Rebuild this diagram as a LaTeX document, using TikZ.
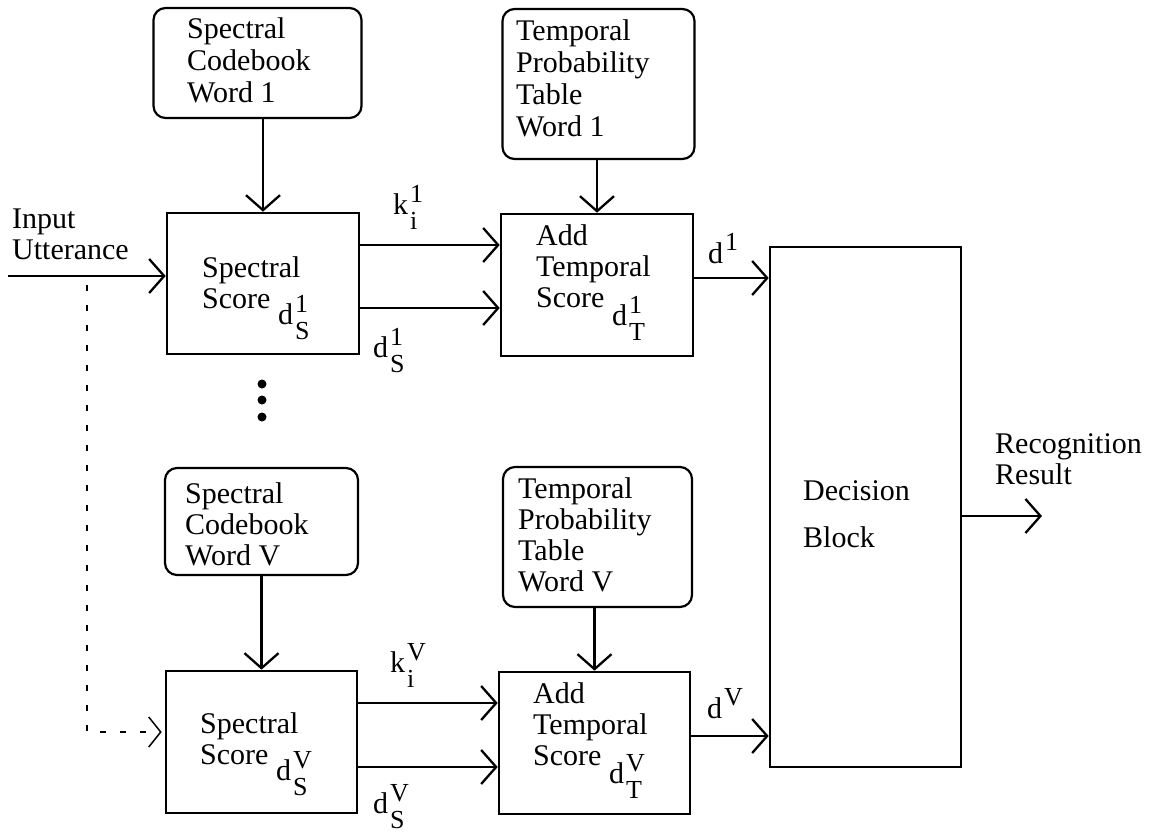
\documentclass[tikz,border=0pt]{standalone}
\usepackage{fontspec}
\setmainfont{Liberation Serif}
\usetikzlibrary{arrows.meta}

\newcommand\idxfont{\fontsize{26}{26}\selectfont}
\newcommand\supsub[3]{#1\kern2pt\rlap{\raisebox{-15pt}{\idxfont #2}}\raisebox{12pt}{\idxfont #3}}
\newcommand\supper[2]{#1\kern2pt\raisebox{13pt}{\idxfont #2}}
\newcommand\lines[1]{\begin{tabular}[t]{@{}l@{}}#1\end{tabular}}

\tikzset{
  box/.style={draw, line width=2.6pt, inner sep=0pt},
  rbox/.style={draw, line width=2.2pt, rounded corners=12pt, inner sep=0pt},
  txt/.style={inner sep=0pt, anchor=base west, font=\fontsize{30}{31}\selectfont},
  wide/.style={font=\fontsize{30}{32}\selectfont},
  arr/.style={line width=2.3pt, -{Straight Barb[length=15pt,width=34pt]}},
  dashline/.style={line width=1.5pt, dash pattern=on 6pt off 14pt},
  dot/.style={circle, fill, inner sep=0pt, minimum size=9pt},
}

\begin{document}
\begin{tikzpicture}[x=1pt, y=-1pt]
\useasboundingbox (0,0) rectangle (1157,833);

% blocks for word 1
\node[rbox, minimum width=208pt, minimum height=110pt] (cb1) at (257.5,63) {};
\node[rbox, minimum width=192pt, minimum height=150pt] (tp1) at (598.5,84) {};
\node[box, minimum width=192pt, minimum height=141pt] (ss1) at (263,283.5) {};
\node[box, minimum width=192pt, minimum height=142pt] (at1) at (597,285) {};

% blocks for word V
\node[rbox, minimum width=193pt, minimum height=107pt] (cbV) at (261.5,521.5) {};
\node[rbox, minimum width=189pt, minimum height=140pt] (tpV) at (597.5,537) {};
\node[box, minimum width=191pt, minimum height=142pt] (ssV) at (261.5,742) {};
\node[box, minimum width=191pt, minimum height=142pt] (atV) at (594.5,743) {};

% decision block
\node[box, minimum width=191pt, minimum height=520pt] (dec) at (865.5,507) {};

% ellipsis dots
\node[dot] (dot1) at (262,384) {};
\node[dot] (dot2) at (262,400) {};
\node[dot] (dot3) at (262,417) {};

% texts
\node[txt] (tin) at (12,228) {\lines{Input\\Utterance}};
\node[txt, wide] (tcb1) at (187,38) {\lines{Spectral\\Codebook\\Word 1}};
\node[txt, wide] (ttp1) at (516,40) {\lines{Temporal\\Probability\\Table\\Word 1}};
\node[txt] (tss1) at (202,277) {\lines{Spectral\\Score \raisebox{-16pt}{\supsub{d}{S}{1}}}};
\node[txt] (tat1) at (536,245) {\lines{Add\\Temporal\\Score \raisebox{-18pt}{\supsub{d}{T}{1}}}};
\node[txt] (tcbV) at (185,503) {\lines{Spectral\\Codebook\\Word V}};
\node[txt] (ttpV) at (518,498) {\lines{Temporal\\Probability\\Table\\Word V}};
\node[txt] (tssV) at (200,733) {\lines{Spectral\\Score \raisebox{-16pt}{\supsub{d}{S}{V}}}};
\node[txt] (tatV) at (533,703) {\lines{Add\\Temporal\\Score \raisebox{-18pt}{\supsub{d}{T}{V}}}};
\node[txt] (tdec) at (803,500) {\lines{Decision\\[16pt]Block}};
\node[txt] (tres) at (995,453) {\lines{Recognition\\Result}};

% connector labels
\node[txt] (lk1) at (393,214) {\supsub{k}{i}{1}};
\node[txt] (ld1) at (373,357) {\supsub{d}{S}{1}};
\node[txt] (lkV) at (390,672) {\supsub{k}{i}{V}};
\node[txt] (ldV) at (373,813) {\supsub{d}{S}{V}};
\node[txt] (lo1) at (708,263) {\supper{d}{1}};
\node[txt] (loV) at (707,718) {\supper{d}{V}};

% connectors
\coordinate (in) at (8,276);
\coordinate (tap) at (87,285);
\coordinate (out) at (1042,516);

\draw[arr] (in) -- (in -| ss1.west);
\draw[dashline, shorten >=3pt, -{Straight Barb[length=12pt,width=30pt]}] (tap) |- (ssV.west |- 0,732);

\draw[arr] (ss1.north |- cb1.south) -- (ss1.north);
\draw[arr] (at1.north |- tp1.south) -- (at1.north);
\draw[arr] (ssV.north |- cbV.south) -- (ssV.north);
\draw[arr] (atV.north |- tpV.south) -- (atV.north);

\draw[arr] (ss1.east |- 0,245) -- (at1.west |- 0,245);
\draw[arr] (ss1.east |- 0,308) -- (at1.west |- 0,308);
\draw[arr] (ssV.east |- 0,703) -- (atV.west |- 0,703);
\draw[arr] (ssV.east |- 0,767) -- (atV.west |- 0,767);

\draw[arr] (at1.east |- 0,278) -- (dec.west |- 0,278);
\draw[arr] (atV.east |- 0,736) -- (dec.west |- 0,736);
\draw[arr] (dec.east |- out) -- (out);
\end{tikzpicture}
\end{document}
